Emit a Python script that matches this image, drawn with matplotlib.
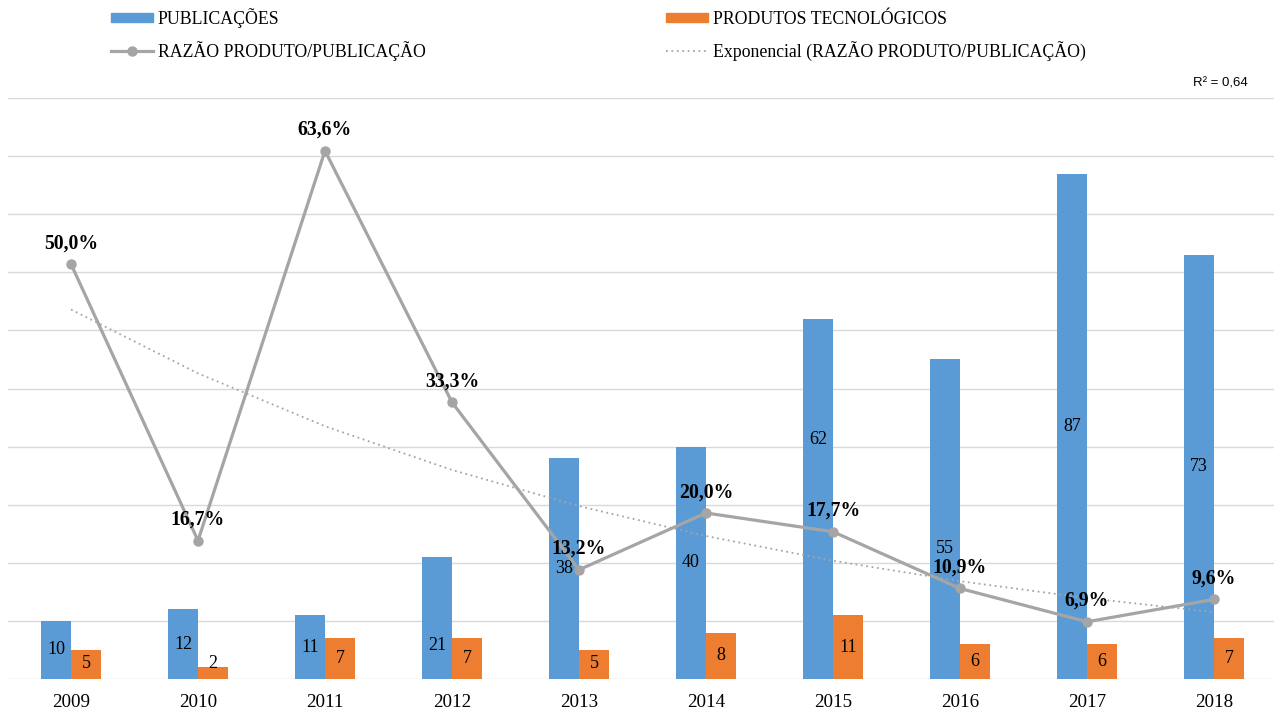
import numpy as np
import matplotlib.pyplot as plt
from matplotlib.lines import Line2D
from matplotlib.patches import Patch

plt.rcParams['font.family'] = ['Liberation Serif', 'DejaVu Serif']

# Data
anos = ['2009', '2010', '2011', '2012', '2013', '2014', '2015', '2016', '2017', '2018']
publicacoes = [10, 12, 11, 21, 38, 40, 62, 55, 87, 73]
produtos = [5, 2, 7, 7, 5, 8, 11, 6, 6, 7]
razao = [p / q for p, q in zip(produtos, publicacoes)]

# Colors
azul = '#5B9BD5'
laranja = '#ED7D31'
cinza = '#A5A5A5'

W, H = 1274, 709
fig = plt.figure(figsize=(W / 100, H / 100), dpi=100)
ax = fig.add_axes([7.5 / W, 1 - 679 / H, 1270 / W, 581 / H])

x = np.arange(len(anos))
bw = 0.236
ax.bar(x - bw / 2, publicacoes, bw, color=azul, zorder=2)
ax.bar(x + bw / 2, produtos, bw, color=laranja, zorder=2)

# ratio on secondary axis
ax2 = ax.twinx()
ax2.set_ylim(0, 0.7)
ax2.axis('off')

ax.set_xlim(-0.5, len(anos) - 0.5)
ax.set_ylim(0, 100)
ax.set_yticks(np.arange(0, 101, 10))
ax.yaxis.grid(True, color='#D9D9D9', linewidth=1, zorder=0)
ax.tick_params(axis='y', left=False, right=False, labelleft=False, labelright=False)
ax.tick_params(axis='x', bottom=False, labelsize=13.7, pad=7)
ax.set_xticks(x)
ax.set_xticklabels(anos)
for s in ax.spines.values():
    s.set_visible(False)

# bar labels (some were moved by hand in the original)
ajuste_pub = {3: 5.7, 6: 41.2, 7: 22.5}
for i, v in enumerate(publicacoes):
    yy = ajuste_pub.get(i, v / 2)
    ax.text(x[i] - bw / 2, yy, str(v), ha='center', va='center', fontsize=13, zorder=5)
for i, v in enumerate(produtos):
    yy = max(v / 2, 2.7)
    ax.text(x[i] + bw / 2, yy, str(v), ha='center', va='center', fontsize=13, zorder=5)

ax2.plot(x, razao, color=cinza, linewidth=2.3, marker='o', markersize=6.5, zorder=3)

# exponential trendline
coef = np.polyfit(x + 1, np.log(razao), 1)
tend = np.exp(coef[1]) * np.exp(coef[0] * (x + 1))
ax2.plot(x, tend, color=cinza, linewidth=1.3, linestyle=(0, (1, 2)), zorder=2)

for i, r in enumerate(razao):
    txt = f'{r * 100:.1f}%'.replace('.', ',')
    ax2.annotate(txt, (x[i], r), xytext=(0, 15), textcoords='offset points',
                 ha='center', va='center', fontsize=14.2, fontweight='bold', zorder=6)

fig.text(1220 / W, 1 - 84 / H, 'R² = 0,64', ha='center', va='center',
         fontsize=9.5, family='Liberation Sans')

handles = [
    Patch(color=azul),
    Line2D([], [], color=cinza, linewidth=2.3, marker='o', markersize=6.5),
    Patch(color=laranja),
    Line2D([], [], color=cinza, linewidth=1.3, linestyle=(0, (1, 2))),
]
labels = ['PUBLICAÇÕES', 'RAZÃO PRODUTO/PUBLICAÇÃO',
          'PRODUTOS TECNOLÓGICOS', 'Exponencial (RAZÃO PRODUTO/PUBLICAÇÃO)']
fig.legend(handles, labels, loc='upper left', bbox_to_anchor=(111 / W, 1 - 8 / H),
           ncol=2, frameon=False, fontsize=12.8, borderpad=0, borderaxespad=0,
           handlelength=2.36, handleheight=0.45, handletextpad=0.28,
           labelspacing=0.72, columnspacing=13.5)

fig.savefig('out.png', dpi=100)
